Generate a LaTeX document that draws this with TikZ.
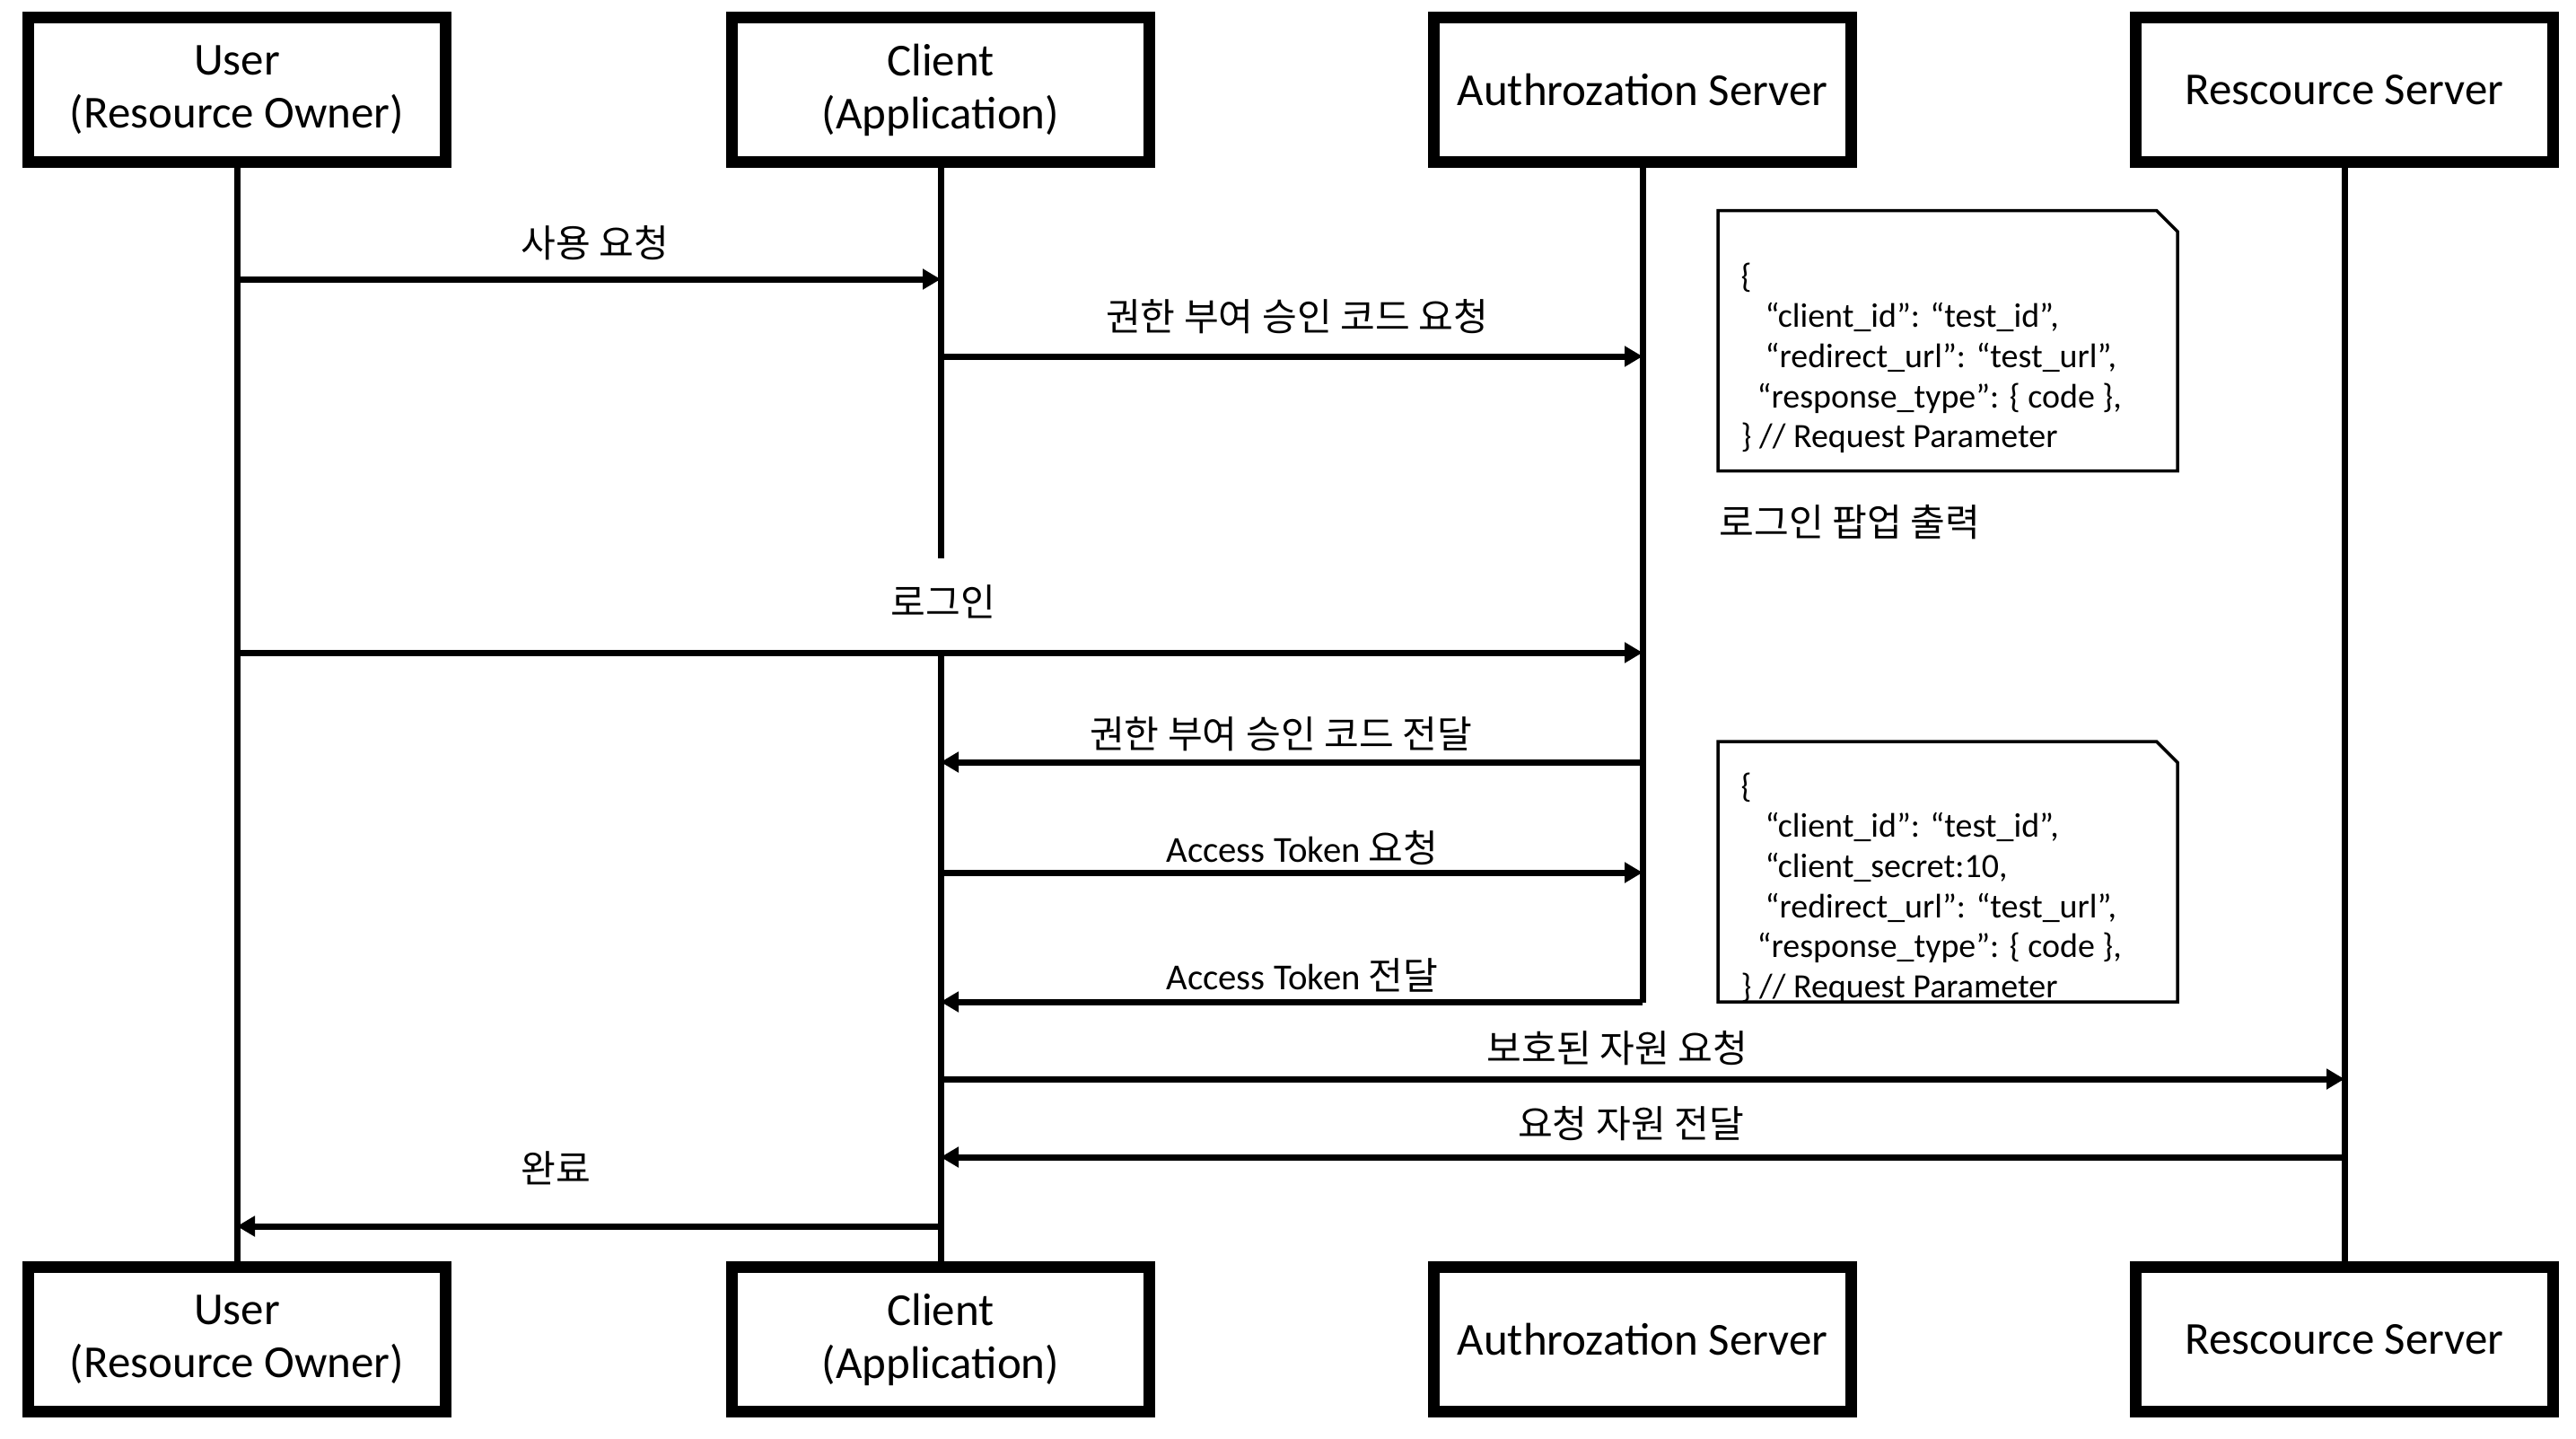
\documentclass[tikz,border=0pt]{standalone}
\usepackage{fontspec}
\setmainfont{Carlito}
\newfontfamily\kr{Noto Sans CJK KR}
\newcommand\ko{\kr\fontsize{12}{14}\selectfont}
\usetikzlibrary{arrows.meta,shapes.misc,positioning}
\begin{document}
\begin{tikzpicture}[
	actor/.style={draw,line width=0.13cm,minimum width=4.65cm,minimum height=1.61cm,align=center,font=\fontsize{14.5}{16.8}\selectfont},
	life/.style={line width=0.07cm},
	msg/.style={line width=0.07cm,-{Triangle[length=0.2cm,width=0.22cm]}},
	lbl/.style={midway,inner sep=0pt,font=\fontsize{11.6}{14}\selectfont},
	note/.style={draw,line width=0.035cm,chamfered rectangle,chamfered rectangle corners=north east,chamfered rectangle xsep=0.5cm,chamfered rectangle ysep=0.5cm,minimum width=5.12cm,minimum height=2.9cm},
	notetext/.style={anchor=north west,inner sep=0pt,align=left,font=\fontsize{10.8}{12.7}\selectfont}
]
\useasboundingbox (0,0) rectangle (28.70,-16.02);
\def\ytop{-1.00}
\def\ybot{-14.92}
% participants
\node[actor] (user) at (2.64,\ytop) {User\\(Resource Owner)};
\node[actor] (client) at (10.48,\ytop) {Client\\(Application)};
\node[actor] (auth) at (18.30,\ytop) {Authrozation Server};
\node[actor] (res) at (26.12,\ytop) {Rescource Server};
\node[actor] (user2) at (2.64,\ybot) {User\\(Resource Owner)};
\node[actor] (client2) at (10.48,\ybot) {Client\\(Application)};
\node[actor] (auth2) at (18.30,\ybot) {Authrozation Server};
\node[actor] (res2) at (26.12,\ybot) {Rescource Server};
% lifelines
\draw[life] (user.south) -- (user2.north);
\draw[life] (client.south) -- (client |- 0,-6.22);
\draw[life] (client2 |- 0,-7.27) -- (client2.north);
\draw[life] (auth.south) -- (auth |- 0,-11.17);
\draw[life] (res.south) -- (res2.north);
% notes
\node[note] (note1) at (21.70,-3.795) {};
\node[notetext] at (19.39,-2.92) {\{\\
	\hspace*{0.27cm}“client\_id”: “test\_id”,\\
	\hspace*{0.27cm}“redirect\_url”: “test\_url”,\\
	\hspace*{0.18cm}“response\_type”: \{ code \},\\
	\} // Request Parameter};
\node[anchor=west,inner sep=0pt,font=\ko] (popup) at (19.15,-5.82) {로그인 팝업 출력};
\node[note] (note2) at (21.70,-9.71) {};
\node[notetext] at (19.39,-8.60) {\{\\
	\hspace*{0.27cm}“client\_id”: “test\_id”,\\
	\hspace*{0.27cm}“client\_secret:10,\\
	\hspace*{0.27cm}“redirect\_url”: “test\_url”,\\
	\hspace*{0.18cm}“response\_type”: \{ code \},\\
	\} // Request Parameter};
% messages
\draw[msg] (user |- 0,-3.11) -- (client |- 0,-3.11) node[lbl,xshift=0.07cm,yshift=0.40cm] {\ko 사용 요청};
\draw[msg] (client |- 0,-3.97) -- (auth |- 0,-3.97) node[lbl,xshift=0.06cm,yshift=0.44cm] {\ko 권한 부여 승인 코드 요청};
\draw[msg] (user |- 0,-7.27) -- (auth |- 0,-7.27) node[lbl,xshift=0.04cm,yshift=0.57cm] {\ko 로그인};
\draw[msg] (auth |- 0,-8.49) -- (client |- 0,-8.49) node[lbl,xshift=-0.12cm,yshift=0.31cm] {\ko 권한 부여 승인 코드 전달};
\draw[msg] (client |- 0,-9.72) -- (auth |- 0,-9.72) node[lbl,xshift=0.12cm,yshift=0.27cm] {Access Token {\ko 요청}};
\draw[msg] (auth |- 0,-11.16) -- (client |- 0,-11.16) node[lbl,xshift=0.12cm,yshift=0.30cm] {Access Token {\ko 전달}};
\draw[msg] (client |- 0,-12.02) -- (res |- 0,-12.02) node[lbl,xshift=-0.28cm,yshift=0.34cm] {\ko 보호된 자원 요청};
\draw[msg] (res |- 0,-12.89) -- (client |- 0,-12.89) node[lbl,xshift=-0.13cm,yshift=0.37cm] {\ko 요청 자원 전달};
\draw[msg] (client |- 0,-13.66) -- (user |- 0,-13.66) node[lbl,xshift=-0.37cm,yshift=0.65cm] {\ko 완료};
\end{tikzpicture}
\end{document}
